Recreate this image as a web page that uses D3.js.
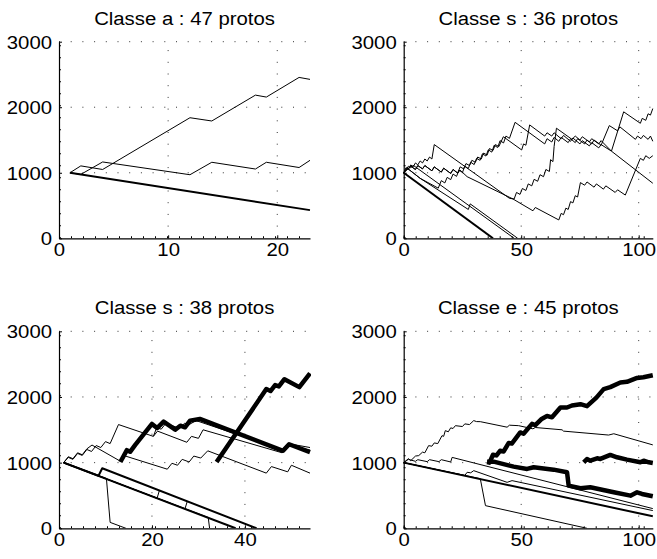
<!DOCTYPE html>
<html><head><meta charset="utf-8">
<script src="https://cdn.jsdelivr.net/npm/d3@7"></script>
<style>body{margin:0;background:#fff}svg{display:block}</style>
</head><body><svg id="c" width="657" height="559"></svg>
<script>
// ---------- data ----------
const titles = ["Classe a : 47 protos", "Classe s : 36 protos", "Classe s : 38 protos", "Classe e : 45 protos"];
const xMaxes = [23, 106, 54, 106];
const xTicks = [[0, 10, 20], [0, 50, 100], [0, 20, 40], [0, 50, 100]];
const yTicks = [0, 1000, 2000, 3000];

// Panel 1 (Classe a)
const s1Thick = [[[1,1000],[23,430]]];
const s1Thin = [
  [[1,1000],[2,1105],[4,1050],[12,1840],[14,1790],[18,2185],[19,2155],[22,2455],[23,2425]],
  [[1,1000],[2,975],[4,1165],[12,970],[14,1160],[18,1057],[19,1160],[22,1080],[23,1190]]
];
const s1Bold = [];

// Panel 2 (Classe s, 36)
const s2Thick = [[[0,1000],[38,0]]];
const s2Thin = [
  [[0,1000],[2,1100],[3,1075],[4,1115],[47,0]],
  [[0,1000],[1.5,1070],[7,915],[27.5,440],[28.3,525],[48.5,0]],
  [[0,1000],[1.5,1070],[7,915],[14.7,765],[16,880],[17.5,845],[18.5,930],[20,895],[21,980],[22.5,945],[23.5,1040],[25,1005],[26,1100],[27.5,1065],[28.5,1160],[30,1125],[31,1220],[32.5,1190],[33.5,1290],[35,1255],[36,1350],[37.5,1315],[38.5,1420],[40,1385],[41,1490],[42.5,1455],[43.5,1560],[45,1525],[47.4,1770],[60,1440],[61,1520],[63,1470],[64,1540],[66,1480],[67,1540],[70,1460],[71,1520],[73,1460],[74,1520],[77,1440],[78,1500],[80,1440],[81,1500],[84,1420],[87.5,1720],[91,1640],[92,1700],[98.6,1510],[99.5,1560],[101,1520],[102,1570],[104,1510],[105,1560],[106,1480]],
  [[0,1000],[1,1080],[2,1050],[3,1120],[4,1090],[5,1150],[6,1120],[7,1180],[8,1150],[9,1210],[10,1180],[11,1240],[12,1210],[13,1430],[45,610],[47,600],[48,700],[49.5,670],[50.5,760],[52,730],[53,830],[54.5,800],[55.5,900],[57,870],[58,970],[59.5,940],[60.5,1050],[62,1020],[62.5,1200],[63.5,1170],[64,1400],[65,1680],[71.6,1510],[73,1560],[75,1500],[76,1550],[79,1470],[80,1520],[83,1440],[84,1490],[88.4,1330],[106,840]],
  [[0,1000],[3,1100],[5,1050],[6,1110],[8,1060],[9,1110],[12,1030],[13,1090],[16,1010],[17,1070],[20,990],[21,1050],[23,995],[24,1090],[25.5,1060],[26.5,1140],[28,1110],[29,1190],[30.5,1160],[31.5,1240],[33,1210],[34,1300],[35.5,1270],[36.5,1370],[38,1340],[39,1430],[40.5,1400],[42.4,1550],[50.2,1348],[51,1440],[52,1420],[53.6,1730],[60,1560],[61,1610],[63,1560],[64,1610],[67,1520],[68,1570],[71,1480],[72,1530],[75,1440],[76,1490],[79,1410],[80,1460],[83,1380],[84,1430],[88.4,1330],[93.6,1930],[100.7,1755],[101.5,1830],[103,1800],[104,1900],[105,1880],[106,1980]],
  [[0,1000],[3,1100],[5,1050],[6,1110],[8,1060],[9,1110],[12,1030],[13,1090],[16,1010],[17,1070],[20,990],[21,1050],[23,995],[24,1040],[27,940],[46.5,600],[55,420],[56,470],[66,280],[67,380],[68,360],[69,460],[70,440],[71,560],[72,540],[73,650],[74,630],[75.2,850],[77,810],[78,860],[81,780],[82,830],[85,750],[86,800],[90,700],[91,740],[94.3,660],[100.7,1220],[102,1190],[103,1260],[104.5,1220],[106,1260]]
];
const s2Bold = [];

// Panel 3 (Classe s, 38)
const s3Thick = [
  [[1,1000],[38,0]],
  [[1,1000],[8.5,800],[9.3,915],[42.5,0]]
];
const s3Thin = [
  [[1,1000],[10.2,760],[11,90],[14.4,0]],
  [[1,1000],[32.1,165],[32.4,0]],
  [[1,1000],[21.1,457],[21.6,576]],
  [[1,1000],[27.1,296],[27.6,411]],
  [[1,1000],[2,1080],[3,1050],[4,1140],[5,1110],[6,1200],[7,1170],[8,1260],[9,1230],[10,1320],[11,1290],[12.8,1580],[20.3,1400],[21.2,1480],[27.5,1310],[28.5,1400],[30,1370],[31,1500],[48,1150],[49.5,1260],[54,1190]],
  [[20.3,1400],[21,1530],[22,1510],[23,1600],[26,1520],[27,1600],[28,1580],[29.5,1640],[48,1200],[49.3,1290],[54,1230]],
  [[1,1000],[2,1090],[3,1060],[4,1150],[5,1120],[6,1210],[7.1,1268],[13,1030],[14.3,1100],[23.3,900],[24.3,990],[25.5,960],[26.5,1050],[28,1010],[29,1100],[30.5,1070],[32,1180],[44.6,840],[45.7,940],[49.2,860],[50,960],[54,840]]
];
const s3Bold = [
  [[13.2,1010],[14.6,1190],[15.3,1165],[16.4,1270],[20,1590],[21.1,1527],[22.5,1624],[25,1502],[26.1,1563],[27.1,1538],[28.2,1640],[30.3,1665],[48.2,1180],[49.5,1280],[54,1160]],
  [[33.9,1010],[44.6,2120],[45.5,2090],[46.5,2180],[47.3,2160],[48.5,2270],[51.7,2150],[54,2360]]
];

// Panel 4 (Classe e)
const s4Thick = [[[0,1000],[106,183]]];
const s4Thin = [
  [[0,1000],[2,1060],[3,1030],[5,1100],[6.4,1107],[8,1160],[9,1150],[10.6,1259],[12,1250],[13,1300],[14.5,1290],[16.3,1411],[17,1400],[17.7,1487],[19,1470],[20,1530],[21,1520],[22,1563],[25,1550],[26,1590],[28,1580],[29.8,1640],[31,1625],[32.6,1624],[44,1540],[45,1570],[48.9,1563],[55,1515],[56,1535],[67.4,1500],[68,1480],[87.2,1420],[89.4,1440],[106,1270]],
  [[0,1000],[2,1050],[5,1020],[6,1045],[10,1015],[11,1045],[15,1015],[16,1045],[20,1010],[20.6,1080],[106,300]],
  [[0,1000],[26,805],[27,853],[28.5,845],[29.8,878],[44,700],[46.1,726],[106,270]],
  [[0,1000],[32.6,755],[34.8,345],[78,0]]
];
const s4Bold = [
  [[35.5,1010],[36.5,1000],[38,1120],[39.5,1110],[41,1180],[42.5,1170],[44.7,1300],[46,1290],[49.6,1460],[51,1440],[54.6,1590],[56,1570],[58.5,1660],[61,1710],[63.1,1690],[66.7,1840],[69.5,1840],[71.6,1870],[75.2,1890],[78,1860],[82,1990],[85.1,2120],[87.9,2150],[92.2,2220],[95,2230],[99.3,2290],[102,2300],[106,2330]],
  [[35.5,1015],[38.3,1015],[46.8,939],[52.5,904],[55.3,929],[63.8,893],[69.5,853],[70.2,650],[75.2,609],[79.4,624],[89.4,548],[96.5,497],[99.3,548],[101.4,523],[106,487]],
  [[76.6,1005],[78,1056],[79.4,1030],[82.3,1066],[83.7,1056],[87.9,1117],[90.8,1081],[95,1046],[100.7,1005],[102.1,1030],[104.3,1005],[106,995]]
];

// ---------- drawing ----------
const panels = [
  {thin: s1Thin, thick: s1Thick, bold: s1Bold},
  {thin: s2Thin, thick: s2Thick, bold: s2Bold},
  {thin: s3Thin, thick: s3Thick, bold: s3Bold},
  {thin: s4Thin, thick: s4Thick, bold: s4Bold}
];
const boxes = [
  {x0: 59, x1: 310, y0: 41.7, y1: 238.3},
  {x0: 403.7, x1: 652.8, y0: 41.7, y1: 238.3},
  {x0: 59, x1: 310, y0: 331.3, y1: 528.3},
  {x0: 403.7, x1: 652.8, y0: 331.3, y1: 528.3}
];
const FONT = "Liberation Sans, Arial, Helvetica, sans-serif";
const SX = 1.13;
const svg = d3.select("#c");

panels.forEach((p, i) => {
  const b = boxes[i];
  const w = b.x1 - b.x0, h = b.y1 - b.y0;
  const x = d3.scaleLinear().domain([0, xMaxes[i]]).range([0, w]);
  const y = d3.scaleLinear().domain([0, 3000]).range([h, 0]);
  const g = svg.append("g").attr("transform", `translate(${b.x0},${b.y0})`);

  g.append("clipPath").attr("id", "clip" + i)
    .append("rect").attr("x", -1).attr("y", -3).attr("width", w + 2).attr("height", h + 3);

  // dotted grid
  const grid = g.append("g").attr("stroke", "#333").attr("stroke-width", 1)
    .attr("stroke-dasharray", "1,10.7").attr("fill", "none");
  yTicks.filter(v => v > 0).forEach(v => {
    grid.append("line").attr("x1", 0).attr("x2", w).attr("y1", y(v)).attr("y2", y(v));
  });
  xTicks[i].filter(v => v > 0).forEach(v => {
    grid.append("line").attr("x1", x(v)).attr("x2", x(v)).attr("y1", h).attr("y2", 0);
  });
  // small marks along axes (grid dots at zero lines)
  const marks = g.append("g").attr("stroke", "#000").attr("stroke-width", 2)
    .attr("stroke-dasharray", "1,11").attr("fill", "none");
  marks.append("line").attr("x1", 0).attr("x2", w).attr("y1", h - 1).attr("y2", h - 1);
  marks.append("line").attr("x1", 1).attr("x2", 1).attr("y1", h).attr("y2", 0);

  // axes
  const ax = g.append("g").attr("transform", `translate(0,${h})`)
    .call(d3.axisBottom(x).tickValues(xTicks[i]).tickSize(-3).tickSizeOuter(0).tickPadding(5).tickFormat(d3.format("d")));
  const ay = g.append("g")
    .call(d3.axisLeft(y).tickValues(yTicks).tickSize(-3).tickSizeOuter(0).tickPadding(7).tickFormat(d3.format("d")));
  [ax, ay].forEach(a => {
    a.select(".domain").attr("stroke", "#000").attr("stroke-width", 1.2);
    a.selectAll(".tick line").attr("stroke", "#000");
    a.selectAll("text").attr("font-family", FONT).attr("font-size", 18).attr("fill", "#000")
      .attr("transform", `scale(${SX},1)`);
  });
  ay.selectAll("text").attr("x", -7 / SX).attr("dy", "0.36em");
  ax.selectAll("text").attr("dy", "0.71em");

  // title
  g.append("text").attr("transform", `translate(${w / 2},-17) scale(${SX},1)`)
    .attr("text-anchor", "middle").attr("font-family", FONT).attr("font-size", 18).attr("fill", "#000")
    .text(titles[i]);

  // lines
  const line = d3.line().x(d => x(d[0])).y(d => y(d[1]));
  const lg = g.append("g").attr("clip-path", `url(#clip${i})`).attr("fill", "none").attr("stroke", "#000")
    .attr("stroke-linejoin", "round");
  lg.selectAll("path.thin").data(p.thin).join("path").attr("class", "thin").attr("d", line).attr("stroke-width", 1);
  lg.selectAll("path.thick").data(p.thick).join("path").attr("class", "thick").attr("d", line).attr("stroke-width", 2);
  lg.selectAll("path.bold").data(p.bold).join("path").attr("class", "bold").attr("d", line).attr("stroke-width", 4.5);
});
</script>
</body></html>
